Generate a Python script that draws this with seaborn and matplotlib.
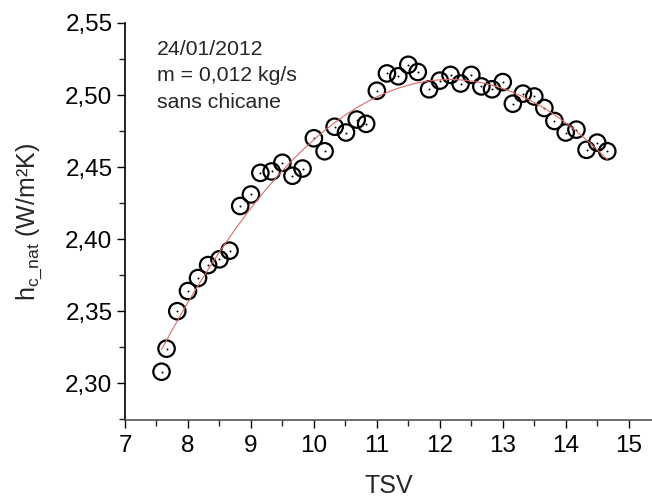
import numpy as np
import pandas as pd
import matplotlib
matplotlib.use("Agg")
import matplotlib.pyplot as plt
from matplotlib.ticker import FuncFormatter, MultipleLocator
import seaborn as sns

# Values
tsv = [7.58, 7.66, 7.83, 8.00, 8.16, 8.32, 8.50, 8.66, 8.83, 9.00, 9.15,
       9.33, 9.50, 9.66, 9.82, 10.00, 10.17, 10.33, 10.51, 10.68, 10.83,
       11.00, 11.16, 11.34, 11.50, 11.65, 11.83, 12.00, 12.17, 12.33, 12.50,
       12.66, 12.83, 13.00, 13.16, 13.32, 13.50, 13.66, 13.82, 14.00, 14.17,
       14.33, 14.50, 14.66]
hc_nat = [2.308, 2.324, 2.350, 2.364, 2.373, 2.382, 2.386, 2.392, 2.423,
          2.431, 2.446, 2.447, 2.453, 2.444, 2.449, 2.470, 2.461, 2.478,
          2.474, 2.483, 2.480, 2.503, 2.515, 2.513, 2.521, 2.516, 2.504,
          2.510, 2.514, 2.508, 2.514, 2.506, 2.504, 2.509, 2.494, 2.501,
          2.499, 2.491, 2.482, 2.474, 2.476, 2.462, 2.467, 2.461]
annotation_lines = ["24/01/2012", "m = 0,012 kg/s", "sans chicane"]

df = pd.DataFrame({"TSV": tsv, "hc": hc_nat})

# second order fit, drawn in red like the original
coef = np.polyfit(df["TSV"], df["hc"], 2)
xfit = np.linspace(df["TSV"].min(), df["TSV"].max(), 200)
fit = pd.DataFrame({"TSV": xfit, "hc": np.polyval(coef, xfit)})

sns.set_style("ticks")
plt.rcParams["font.family"] = ["Liberation Sans", "DejaVu Sans"]
plt.rcParams["mathtext.default"] = "regular"

fig = plt.figure(figsize=(6.52, 4.97), dpi=100)
ax = fig.add_axes([125 / 652, 1 - 420 / 497, 1 - 125 / 652, 397 / 497])

sns.lineplot(data=fit, x="TSV", y="hc", ax=ax, color="#dc6a6a", lw=0.8)
sns.scatterplot(data=df, x="TSV", y="hc", ax=ax, marker="o", s=140,
                facecolor="none", edgecolor="black", linewidth=1.6)
sns.scatterplot(data=df, x="TSV", y="hc", ax=ax, marker="o", s=2,
                color="black", linewidth=0)

ax.set_xlim(7, 15.37)
ax.set_ylim(2.2745, 2.55)
ax.xaxis.set_major_locator(MultipleLocator(1))
ax.xaxis.set_minor_locator(MultipleLocator(0.5))
ax.yaxis.set_major_locator(MultipleLocator(0.05))
ax.yaxis.set_minor_locator(MultipleLocator(0.025))
ax.yaxis.set_major_formatter(FuncFormatter(lambda v, p: f"{v:.2f}".replace(".", ",")))
ax.xaxis.set_major_formatter(FuncFormatter(lambda v, p: f"{v:.0f}"))

ax.tick_params(which="major", length=6, width=1, labelsize=17.5, colors="black")
ax.tick_params(which="minor", length=4, width=1)
ax.tick_params(axis="x", pad=5)
ax.tick_params(axis="y", pad=3)

sns.despine(ax=ax)
ax.spines["left"].set_color("black")
ax.spines["bottom"].set_color("#555555")
ax.spines["left"].set_linewidth(1.2)
ax.spines["bottom"].set_linewidth(1.2)

ax.set_xlabel("TSV", fontsize=18, labelpad=12)
ax.set_ylabel(r"$h_{c\_nat}$ (W/m²K)", fontsize=18, labelpad=15)

# annotation lines, one text each for even spacing
for i, line in enumerate(annotation_lines):
    ax.text(0.061, 0.932 - i * 0.0655, line, transform=ax.transAxes,
            fontsize=15.3, va="center", ha="left")

fig.savefig("out.png", dpi=100)
